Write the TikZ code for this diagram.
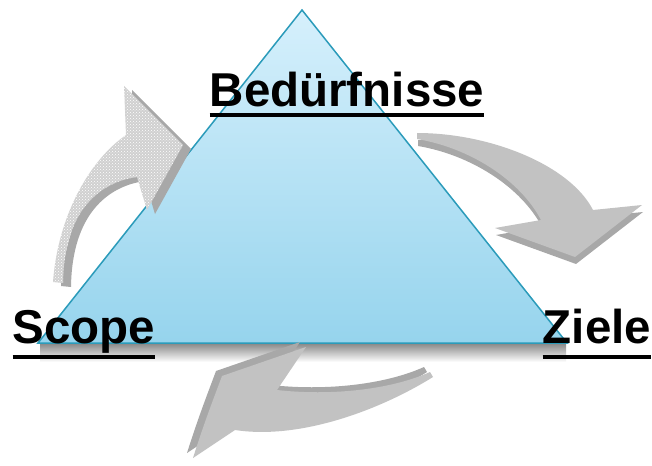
\documentclass[tikz,border=0pt]{standalone}
\usepackage{fontspec}
\setmainfont{Liberation Sans}
\usetikzlibrary{patterns}
\definecolor{triline}{RGB}{43,155,186}
\definecolor{tritop}{RGB}{214,240,252}
\definecolor{tribottom}{RGB}{150,212,237}
\definecolor{arrface}{RGB}{194,194,194}
\definecolor{arrside}{RGB}{168,168,168}
\definecolor{dotface}{RGB}{208,208,208}
\def\arrUp{(53,282) .. controls (58,215) and (90,160) .. (126,135) -- (124,86) -- (183,145) -- (147,210) -- (137,177) .. controls (100,182) and (64,210) .. (63,283) -- cycle}
\def\arrRight{(417,133) .. controls (490,133) and (570,165) .. (593,210) -- (642,205) -- (575,257) -- (495,228) -- (541,220) .. controls (520,180) and (470,148) .. (417,139) -- cycle}
\def\arrDown{(433,377) .. controls (380,410) and (300,440) .. (235,430) -- (193,458) .. controls (205,420) and (215,395) .. (222,376) -- (306,347) -- (277,390) .. controls (330,396) and (390,390) .. (430,372) -- cycle}
\begin{document}
\begin{tikzpicture}[x=1pt,y=-1pt,
  face/.style={fill=arrface},
  side/.style={fill=arrside},
  word/.style={font=\fontsize{47.5}{50}\selectfont\bfseries,inner sep=0pt,anchor=base},
  uline/.style={line width=4pt}]
\useasboundingbox (0,0) rectangle (652,465);
% soft shadow below the base
\shade[top color=black!45,bottom color=white] (40,344) rectangle (566,362);
% the triangle
\draw[triline,line width=1.5pt,top color=tritop,bottom color=tribottom] (302,10)--(567,343)--(38,343)--cycle;
% arrow going up, dotted
\fill[side,shift={(8,4)}] \arrUp;
\fill[dotface] \arrUp;
\fill[pattern=crosshatch dots,pattern color=white] \arrUp;
% arrow going right
\fill[side,shift={(1,7)}] \arrRight;
\fill[face] \arrRight;
% arrow going back
\fill[side,shift={(-6,-5)}] \arrDown;
\fill[face] \arrDown;
% labels
\node[word] (bed) at (347,107) {Bedürfnisse};
\node[word] (scope) at (84,343) {Scope};
\node[word] (ziele) at (597,343) {Ziele};
\draw[uline] ([yshift=-8pt]bed.base west) -- ([yshift=-8pt]bed.base east);
\draw[uline] ([yshift=-14pt]scope.base west) -- ([yshift=-14pt]scope.base east);
\draw[uline] ([yshift=-14pt]ziele.base west) -- ([yshift=-14pt]ziele.base east);
\end{tikzpicture}
\end{document}
